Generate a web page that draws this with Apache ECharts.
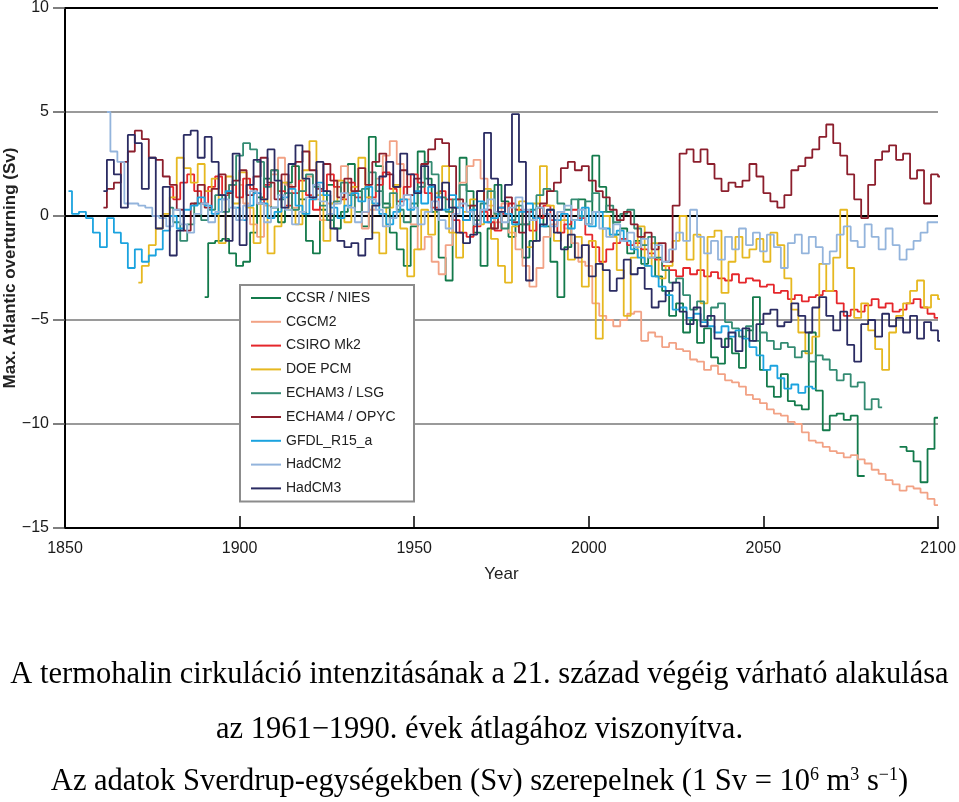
<!DOCTYPE html>
<html>
<head>
<meta charset="utf-8">
<script src="https://cdn.jsdelivr.net/npm/echarts@6/dist/echarts.min.js"></script>
<style>
html,body{margin:0;padding:0;background:#fff;}
#chart{width:959px;height:802px;}
</style>
</head>
<body>
<div id="chart"></div>
<script>
// ---- Data (2-year steps from each series' start year) ----
const yearStep = 2;
const modelNames = ['CCSR / NIES','CGCM2','CSIRO Mk2','DOE PCM','ECHAM3 / LSG','ECHAM4 / OPYC','GFDL_R15_a','HadCM2','HadCM3'];
const xTicks = [1850, 1900, 1950, 2000, 2050, 2100];
const yTicks = [-15, -10, -5, 0, 5, 10];

const ccsrStart = 1890;
const ccsr = [-3.9,-1.3,-1.2,-1.1,-1.8,-2.4,-2.2,-0.8,0.9,1.8,0.4,-0.3,1.6,2.4,0.8,-1.2,-1.8,0.3,1.5,-0.6,
  0.2,2.5,1.2,-0.5,3.8,2.4,0.6,-0.8,-1.6,-2.4,-0.5,3.1,1.8,0.2,-2.0,-3.1,0.4,2.8,1.2,-0.8,
  -2.4,-0.6,1.5,0.7,-1.0,-0.4,-2.0,-1.2,0.4,-0.5,-2.2,-3.9,-1.5,-0.2,0.8,-0.4,2.9,1.4,0.2,-0.9,
  -0.6,-1.8,-1.2,-2.3,-2.0,-2.9,-3.6,-4.8,-4.2,-5.6,-5.0,-6.1,-5.4,-6.8,-7.1,-5.9,-6.6,-7.3,-5.5,-3.9,
  -7.4,-8.2,-8.7,-7.6,-8.9,-9.1,-9.3,-5.6,-8.4,-10.3,-9.6,-9.5,-9.8,-9.6,-12.5,null,null,null,null,null,
  -11.1,-11.3,-11.8,-12.8,-11.2,-9.7];

const cgcm2Start = 1900;
const cgcm2 = [1.5,0.6,-0.4,-1.0,0.5,2.0,2.8,1.5,0.4,1.2,1.9,0.8,-0.2,0.6,1.7,2.4,1.1,0.2,-0.6,0.3,
  1.8,2.9,3.6,2.5,0.8,-0.4,-1.6,-1.0,-2.2,-2.8,-1.4,0.4,1.6,2.4,2.7,1.8,0.5,-0.3,0.6,-0.8,
  -1.6,-2.4,-3.4,-2.5,-1.0,-0.4,0.2,-0.6,-1.3,-2.2,-2.4,-4.2,-4.8,-5.0,-5.3,-5.0,-4.7,-4.6,-6.0,-5.6,
  -5.8,-6.3,-6.1,-6.4,-6.5,-6.9,-7.0,-7.4,-7.2,-7.6,-7.9,-8.0,-8.2,-8.6,-8.8,-9.0,-9.3,-9.5,-9.6,-9.9,
  -10.0,-10.4,-10.8,-10.9,-11.1,-11.3,-11.4,-11.6,-11.5,-11.7,-11.9,-12.2,-12.4,-12.7,-12.9,-13.2,-13.0,-13.1,-13.3,-13.6,-13.9];

const csiroStart = 1880;
const csiro = [1.4,0.8,1.6,2.0,1.2,0.6,1.4,1.9,1.0,1.5,0.9,1.8,1.3,0.6,1.5,2.2,1.2,0.5,1.1,1.7,
  1.0,0.3,1.2,2.0,1.4,0.8,1.6,0.9,0.2,0.9,1.5,2.1,1.3,0.7,1.4,2.0,1.6,1.1,0.4,1.2,
  0.8,-0.2,-0.8,-1.0,-0.5,0.2,-0.3,-0.7,0.1,0.6,0.3,-0.4,-0.7,-0.1,0.5,-0.2,-0.8,-0.4,0.3,-0.1,
  -0.9,-1.5,-2.2,-1.6,-1.3,-1.1,-1.4,-1.3,-1.6,-1.8,-2.1,-2.4,-2.6,-2.9,-2.5,-2.8,-2.6,-2.9,-2.7,-3.0,
  -3.1,-2.8,-3.2,-3.0,-3.1,-3.4,-3.3,-3.7,-3.6,-4.0,-3.8,-4.1,-3.9,-3.8,-3.6,-3.6,-4.2,-4.8,-4.5,-4.6,
  -4.3,-4.0,-4.4,-4.2,-4.6,-4.5,-4.2,-4.0,-4.4,-4.7,-4.9];

const doeStart = 1871;
const doe = [-3.2,-2.4,-1.4,-0.6,0.1,0.9,2.8,2.3,1.6,2.5,1.2,1.8,-1.3,1.9,0.6,2.1,0.4,-1.3,0.8,-1.8,
  -0.5,1.6,0.3,-0.4,2.2,3.6,1.0,-1.2,0.6,1.7,-0.3,1.4,2.8,0.9,-0.8,-1.8,0.4,1.5,-0.6,-2.9,
  -1.6,0.3,-0.9,1.1,2.4,-0.8,-2.0,0.2,0.8,-0.4,1.3,-1.1,-2.4,-3.2,-0.5,0.7,-1.5,0.6,2.4,0.5,
  -1.2,-0.2,-2.1,-1.0,-3.4,-1.2,-5.9,0.0,-1.0,-2.6,-4.8,-2.0,-0.5,-2.4,-1.3,-3.0,-2.4,-1.2,0.0,-2.1,
  -0.9,-4.2,-1.0,-0.7,-3.7,-2.2,-1.0,-2.0,-1.6,-1.1,-2.2,-0.8,-1.4,-3.0,-4.5,-5.6,-6.6,-5.8,-2.3,-3.6,
  -2.0,0.3,-2.5,-4.9,-4.2,-5.5,-6.4,-7.4,-5.6,-4.8,-4.2,-3.6,-3.1,-4.4,-3.8,-4.0];

const echam3Start = 1880;
const echam3 = [0.4,-0.3,-1.2,-0.4,0.6,-0.2,0.3,1.0,0.2,1.5,2.9,3.5,3.2,2.6,1.4,2.2,0.8,1.1,0.3,1.2,
  2.0,1.4,0.5,-0.2,0.7,1.6,1.0,0.2,1.3,2.1,1.2,0.4,1.1,0.3,-0.3,0.6,1.4,2.6,2.0,0.9,
  0.2,0.8,1.5,0.5,-0.2,0.6,1.2,0.1,-0.6,-0.2,0.5,-0.4,0.3,1.0,1.3,1.2,0.6,0.3,0.8,0.0,
  0.7,1.1,0.2,0.5,-0.3,0.1,0.3,-0.6,-1.4,-1.0,-2.0,-2.6,-3.2,-3.0,-3.8,-4.5,-4.1,-5.0,-4.4,-4.2,
  -5.1,-5.4,-5.8,-5.3,-6.0,-5.6,-6.0,-6.4,-6.1,-6.3,-6.8,-6.5,-7.0,-6.7,-6.9,-7.4,-7.9,-7.6,-8.2,-8.0,
  -9.3,-8.8,-9.2];

const echam4Start = 1861;
const echam4 = [0.4,1.3,1.6,2.6,3.1,4.1,3.7,2.8,2.7,1.9,1.5,0.3,-0.7,0.6,1.5,0.4,1.3,2.0,1.1,1.7,
  2.2,1.0,1.9,2.8,1.6,0.8,2.0,1.4,2.6,3.1,2.2,1.3,2.5,1.7,0.9,1.8,1.2,2.3,1.5,2.6,
  3.0,2.0,1.4,2.2,1.0,1.8,2.5,3.2,3.7,3.5,2.4,0.8,-0.2,0.5,1.2,0.3,-0.6,0.4,0.9,-0.3,
  -0.8,0.2,-0.1,0.6,1.2,1.6,2.3,2.6,2.2,2.4,1.7,1.2,0.9,0.3,-0.2,0.2,-0.4,-1.0,-0.8,-1.6,
  -1.3,-2.2,0.5,3.0,3.2,2.6,3.2,2.5,1.8,1.2,1.6,1.4,1.7,2.5,1.9,1.1,0.7,0.4,1.0,2.2,
  2.4,2.8,3.2,3.8,4.4,3.5,2.9,2.0,0.8,-0.1,1.5,2.7,3.1,3.4,2.7,3.0,1.8,2.2,0.6,2.0,1.9];

const gfdlStart = 1851;
const gfdl = [1.2,0.1,0.2,-0.1,-0.8,-1.5,-0.1,-0.8,-1.3,-2.5,-1.6,-2.2,-1.9,-1.6,-0.7,0.0,-0.6,0.3,0.5,0.9,
  0.5,0.1,0.8,1.2,0.4,-0.2,0.5,1.1,0.6,-0.1,0.2,0.9,1.3,0.5,0.1,0.8,1.6,1.0,0.4,-0.1,
  0.5,1.1,0.7,1.4,0.6,0.1,-0.4,0.2,0.8,0.3,1.2,0.6,1.4,0.9,0.3,1.0,0.4,-0.2,0.3,0.7,
  -0.3,-0.1,0.4,0.1,-0.4,0.2,0.6,-0.1,-0.5,0.3,-0.2,0.1,-0.6,-0.2,0.4,-0.5,0.2,-0.6,-0.9,-0.7,
  -1.2,-1.6,-2.0,-2.4,-2.9,-3.4,-3.8,-4.5,-4.4,-4.9,-4.7,-5.1,-5.3,-5.6,-5.3,-5.8,-5.5,-5.9,-6.3,-6.7,
  -7.4,-7.2,-7.8,-8.3,-8.1,-8.5,-8.2,-8.3];

const hadcm2Start = 1862;
const hadcm2 = [5.0,3.1,2.6,0.6,0.6,0.5,0.4,0.0,-0.1,-0.5,0.3,-0.4,-0.8,0.1,0.6,-0.3,0.2,0.8,0.4,-0.2,
  0.5,1.2,0.6,-0.3,0.4,1.0,0.3,-0.4,0.2,0.9,1.5,0.7,0.1,0.6,1.1,0.4,-0.3,0.2,0.8,0.3,
  -0.5,-0.1,0.5,1.0,0.4,-0.4,0.2,0.7,-0.2,-0.6,0.1,0.6,0.2,-0.4,0.3,0.8,0.2,-0.3,0.4,0.9,
  0.3,-0.2,0.4,0.1,-0.5,0.2,0.5,-0.2,0.3,-0.4,0.2,-0.6,-1.0,-0.4,-1.2,-0.8,-1.5,-1.1,-2.0,-1.4,
  -2.2,-1.6,-0.8,-1.2,0.3,-1.0,-1.8,-1.2,-2.1,-1.0,-1.6,-0.6,-1.4,-0.8,-1.7,-0.9,-1.5,-2.5,-1.3,-0.9,
  -1.8,-1.0,-1.5,-2.3,-1.7,-0.9,-0.5,-1.2,-1.5,-0.4,-1.0,-1.6,-0.6,-1.4,-2.1,-1.6,-1.2,-0.8,-0.3,-0.3];

const hadcm3Start = 1861;
const hadcm3 = [1.2,2.7,2.0,0.4,3.9,3.5,1.3,2.8,-0.6,1.4,-1.9,-0.7,3.9,4.1,2.8,3.8,2.6,1.0,-1.2,3.0,
  -1.4,1.5,2.7,0.8,3.2,1.7,0.4,2.5,3.4,1.8,0.9,2.6,1.2,-0.6,-1.2,-1.5,-1.3,-1.9,-1.1,0.5,
  1.9,2.6,1.4,3.0,2.0,1.1,2.4,1.5,0.3,1.6,0.4,-0.8,-1.3,-0.9,1.2,4.0,1.8,0.2,1.5,4.9,
  2.6,-3.1,-1.2,-0.4,0.3,-0.8,-1.6,-0.9,-2.0,-1.4,-2.9,-2.3,-2.6,-3.6,-3.0,-2.1,-2.8,-2.5,-3.5,-4.4,
  -4.1,-3.6,-3.2,-4.6,-5.2,-4.4,-5.3,-4.8,-5.9,-6.3,-5.6,-6.5,-5.4,-6.0,-5.2,-4.7,-4.5,-5.3,-5.1,-4.2,
  -4.8,-5.6,-4.4,-3.9,-4.8,-5.5,-4.6,-6.2,-7.0,-5.2,-5.0,-5.8,-4.7,-5.3,-4.9,-5.6,-4.8,-5.9,-5.1,-5.5,-6.0];

const modelColors = ['#137a4b','#f2a285','#e5262b','#e6b820','#338b72','#8c1e2c','#1ba3df','#93b4dc','#2a2b62'];

const seriesTable = [
  [ccsrStart, ccsr], [cgcm2Start, cgcm2], [csiroStart, csiro], [doeStart, doe],
  [echam3Start, echam3], [echam4Start, echam4], [gfdlStart, gfdl], [hadcm2Start, hadcm2], [hadcm3Start, hadcm3]
];

function toPairs(start, vals) {
  return vals.map((v, i) => [start + yearStep * i, v]);
}

const chart = echarts.init(document.getElementById('chart'), null, {renderer: 'canvas'});

const axisFont = "'Liberation Sans', Arial, sans-serif";
const serifFont = "'Liberation Serif', 'Times New Roman', serif";

const option = {
  animation: false,
  backgroundColor: '#ffffff',
  grid: {left: 65, right: 21, top: 8, bottom: 274, containLabel: false, outerBoundsMode: 'none'},
  legend: {
    orient: 'vertical',
    left: 240, top: 285,
    data: modelNames,
    icon: 'rect',
    itemWidth: 30, itemHeight: 2,
    itemGap: 9.8,
    padding: [6, 8, 6, 11],
    backgroundColor: '#ffffff',
    borderColor: '#8c8c8c',
    borderWidth: 2,
    borderRadius: 0,
    textStyle: {fontFamily: axisFont, fontSize: 14, color: '#222', lineHeight: 14, width: 120, padding: [0, 0, 0, 0]}
  },
  xAxis: {
    type: 'value', min: xTicks[0], max: xTicks[xTicks.length - 1], interval: 50,
    name: 'Year', nameLocation: 'middle', nameGap: 38,
    nameTextStyle: {fontFamily: axisFont, fontSize: 17, color: '#222'},
    axisLine: {show: true, onZero: false, lineStyle: {color: '#000', width: 2}},
    axisTick: {show: true, inside: true, length: 12, lineStyle: {color: '#000', width: 1.5}},
    axisLabel: {fontFamily: axisFont, fontSize: 16, color: '#1a1a1a', margin: 13, formatter: v => String(v)},
    splitLine: {show: false}
  },
  yAxis: {
    type: 'value', min: yTicks[0], max: yTicks[yTicks.length - 1], interval: 5,
    name: 'Max. Atlantic overturning (Sv)', nameLocation: 'middle', nameGap: 46,
    nameMoveOverlap: false,
    nameTextStyle: {fontFamily: axisFont, fontSize: 17, fontWeight: 'bold', color: '#222'},
    axisLine: {show: true, onZero: false, lineStyle: {color: '#000', width: 2}},
    axisTick: {show: true, inside: false, length: 12, lineStyle: {color: '#555', width: 1.5}},
    axisLabel: {fontFamily: axisFont, fontSize: 16, color: '#1a1a1a', margin: 16,
      formatter: v => (v < 0 ? '\u2212' + Math.abs(v) : String(v))},
    splitLine: {show: true, lineStyle: {color: ['#000', '#9a9a9a', '#9a9a9a', '#000', '#9a9a9a', '#000'], width: 2}}
  },
  series: seriesTable.map((s, i) => ({
    name: modelNames[i],
    type: 'line',
    step: 'middle',
    showSymbol: false,
    connectNulls: false,
    clip: true,
    lineStyle: {width: 1.8, color: modelColors[i]},
    itemStyle: {color: modelColors[i]},
    data: toPairs(s[0], s[1])
  })),
  graphic: [
    {type: 'text', left: 'center', top: 659,
      style: {text: 'A termohalin cirkuláció intenzitásának a 21. század végéig várható alakulása',
        font: "30.5px " + serifFont, fill: '#000'}},
    {type: 'text', left: 'center', top: 714,
      style: {text: 'az 1961\u22121990. évek átlagához viszonyítva.',
        font: "30.5px " + serifFont, fill: '#000'}},
    {type: 'text', left: 'center', top: 766,
      style: {text: 'Az adatok Sverdrup-egységekben (Sv) szerepelnek (1 Sv = 10{sup|6} m{sup|3} s{sup|\u22121})',
        font: "30.5px " + serifFont, fill: '#000',
        rich: {sup: {fontSize: 18, fontFamily: serifFont, verticalAlign: 'top', lineHeight: 30, padding: [0, 0, 10, 0]}}}}
  ]
};

chart.setOption(option);
</script>
</body>
</html>
